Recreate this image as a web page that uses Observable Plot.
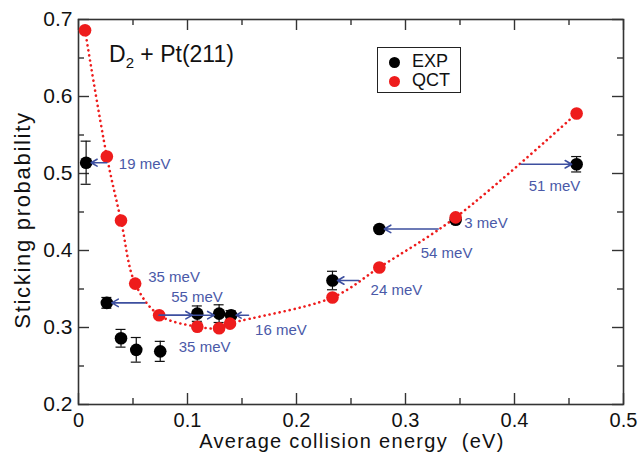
<!DOCTYPE html>
<html><head><meta charset="utf-8">
<script src="https://cdn.jsdelivr.net/npm/d3@7"></script>
<script src="https://cdn.jsdelivr.net/npm/@observablehq/plot@0.6"></script>
<style>
body{margin:0;background:#fff;font-family:"Liberation Sans",Arial,sans-serif;}
#wrap{position:relative;width:643px;height:453px;}
#title{position:absolute;left:109px;top:41px;font-size:23px;line-height:26px;color:#111;white-space:nowrap;}
#title sub{font-size:15px;vertical-align:-6px;line-height:0;}
#legend{position:absolute;left:377px;top:47px;width:84px;height:46px;border:1.5px solid #222;box-sizing:border-box;font-size:18px;color:#111;}
.li{position:absolute;left:11px;height:18px;line-height:18px;white-space:nowrap;}
.li span.d{display:inline-block;width:11px;height:11px;border-radius:50%;margin-right:12px;vertical-align:-1px;}
#xtitle{position:absolute;left:352px;top:431px;transform:translateX(-50%);font-size:20px;line-height:20px;letter-spacing:1.3px;white-space:pre;color:#111;}
#ytitle{position:absolute;left:23px;top:220px;transform:translate(-50%,-50%) rotate(-90deg);font-size:22px;line-height:22px;letter-spacing:1.7px;white-space:nowrap;color:#111;}
</style></head>
<body><div id="wrap"></div>
<script>
// QCT (red) results
const qctX = [0.006, 0.026, 0.039, 0.052, 0.074, 0.109, 0.129, 0.139, 0.233, 0.276, 0.346, 0.457];
const qctY = [0.686, 0.522, 0.439, 0.357, 0.316, 0.301, 0.299, 0.305, 0.339, 0.378, 0.443, 0.578];
// EXP (black) results with error bars
const expX = [0.007, 0.026, 0.039, 0.053, 0.075, 0.109, 0.129, 0.140, 0.233, 0.276, 0.346, 0.457];
const expY = [0.514, 0.332, 0.286, 0.271, 0.269, 0.318, 0.318, 0.316, 0.361, 0.428, 0.440, 0.512];
const expErr = [0.028, 0.007, 0.0115, 0.016, 0.013, 0.010, 0.0115, 0.006, 0.012, 0.003, 0.003, 0.010];
// energy-shift arrows
const arrowFrom = [0.026, 0.061, 0.074, 0.074, 0.156, 0.257, 0.330, 0.406];
const arrowTo   = [0.007, 0.026, 0.109, 0.129, 0.140, 0.233, 0.276, 0.457];
const arrowY    = [0.514, 0.332, 0.316, 0.316, 0.316, 0.361, 0.428, 0.512];
// shift labels
const labelText = ["19 meV", "35 meV", "55 meV", "16 meV", "35 meV", "24 meV", "54 meV", "3 meV", "51 meV"];
const labelX    = [0.037, 0.064, 0.085, 0.162, 0.092, 0.268, 0.314, 0.354, 0.413];
const labelY    = [0.512, 0.365, 0.340, 0.297, 0.275, 0.349, 0.397, 0.436, 0.484];
// ticks
const xTicks = [0, 0.1, 0.2, 0.3, 0.4, 0.5];
const xMinor = [0.05, 0.15, 0.25, 0.35, 0.45];
const yTicks = [0.2, 0.3, 0.4, 0.5, 0.6, 0.7];
const yMinor = [0.25, 0.35, 0.45, 0.55, 0.65];
// axis titles
const xTitle = "Average collision energy  (eV)";
const yTitle = "Sticking probability";

const qct = qctX.map((x, i) => ({x, y: qctY[i]}));
const exp = expX.map((x, i) => ({x, y: expY[i], e: expErr[i]}));
const arrows = arrowFrom.map((x1, i) => ({x1, x2: arrowTo[i], y: arrowY[i]}));
const labels = labelText.map((t, i) => ({t, x: labelX[i], y: labelY[i]}));

const W = 643, H = 453, mL = 78, mR = 20, mT = 19, mB = 49;
const fw = W - mL - mR, fh = H - mT - mB;
const RED = "#ee1c1c", BLUE = "#3d4f9f", LBLUE = "#4a59a8", AX = "#333";
const maj = 11, mnr = 6;

const plot = Plot.plot({
  width: W, height: H,
  marginLeft: mL, marginRight: mR, marginTop: mT, marginBottom: mB,
  style: {fontFamily: "Liberation Sans, Arial, sans-serif", background: "#fff", color: "#111"},
  x: {domain: [0, 0.5]},
  y: {domain: [0.2, 0.7]},
  marks: [
    // inward ticks on all four sides
    Plot.ruleX(xTicks, {x: d => d, insetTop: fh - maj, stroke: AX, strokeWidth: 1.4}),
    Plot.ruleX(xTicks, {x: d => d, insetBottom: fh - maj, stroke: AX, strokeWidth: 1.4}),
    Plot.ruleX(xMinor, {x: d => d, insetTop: fh - mnr, stroke: AX, strokeWidth: 1.4}),
    Plot.ruleX(xMinor, {x: d => d, insetBottom: fh - mnr, stroke: AX, strokeWidth: 1.4}),
    Plot.ruleY(yTicks, {y: d => d, insetRight: fw - maj, stroke: AX, strokeWidth: 1.4}),
    Plot.ruleY(yTicks, {y: d => d, insetLeft: fw - maj, stroke: AX, strokeWidth: 1.4}),
    Plot.ruleY(yMinor, {y: d => d, insetRight: fw - mnr, stroke: AX, strokeWidth: 1.4}),
    Plot.ruleY(yMinor, {y: d => d, insetLeft: fw - mnr, stroke: AX, strokeWidth: 1.4}),
    Plot.axisX({ticks: xTicks, tickSize: 0, tickPadding: 8, fontSize: 20, tickFormat: d => String(+d.toFixed(1)), label: null}),
    Plot.axisY({ticks: yTicks, tickSize: 0, tickPadding: 6, fontSize: 21, tickFormat: d => d.toFixed(1), label: null}),
    Plot.frame({stroke: AX, strokeWidth: 1.6}),
    // QCT dotted curve
    Plot.line(qct, {x: "x", y: "y", curve: "catmull-rom", stroke: RED, strokeWidth: 2.6, strokeDasharray: "0.1,5", strokeLinecap: "round"}),
    // error bars
    Plot.ruleX(exp, {x: "x", y1: d => d.y - d.e, y2: d => d.y + d.e, stroke: "#111", strokeWidth: 1.2}),
    Plot.ruleY(exp, {y: d => d.y + d.e, x1: "x", x2: "x", insetLeft: -5, insetRight: -5, stroke: "#111", strokeWidth: 1.2}),
    Plot.ruleY(exp, {y: d => d.y - d.e, x1: "x", x2: "x", insetLeft: -5, insetRight: -5, stroke: "#111", strokeWidth: 1.2}),
    Plot.dot(exp, {x: "x", y: "y", r: 6.3, fill: "#000"}),
    Plot.dot(qct, {x: "x", y: "y", r: 6.3, fill: RED}),
    // shift arrows
    Plot.arrow(arrows, {x1: "x1", x2: "x2", y1: "y", y2: "y", stroke: BLUE, strokeWidth: 1.6, headLength: 7, insetEnd: 5}),
    Plot.text(labels, {x: "x", y: "y", text: "t", fill: LBLUE, fontSize: 15, textAnchor: "start"})
  ]
});
const wrap = document.getElementById("wrap");
wrap.appendChild(plot);
wrap.insertAdjacentHTML("beforeend",
  `<div id="title">D<sub>2</sub> + Pt(211)</div>
   <div id="legend">
     <div class="li" style="top:4px"><span class="d" style="background:#000"></span>EXP</div>
     <div class="li" style="top:23px"><span class="d" style="background:${RED}"></span>QCT</div>
   </div>
   <div id="xtitle"></div><div id="ytitle"></div>`);
document.getElementById("xtitle").textContent = xTitle;
document.getElementById("ytitle").textContent = yTitle;
</script></body></html>
